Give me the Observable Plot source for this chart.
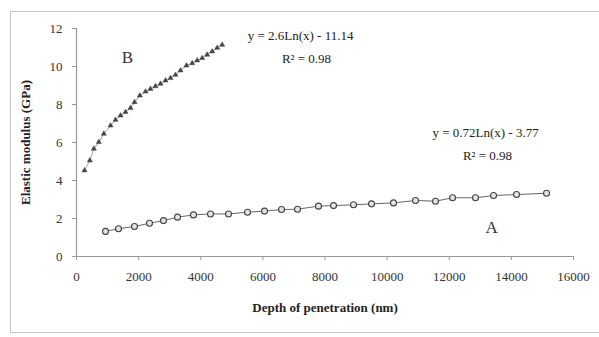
<!DOCTYPE html>
<html>
<head>
<meta charset="utf-8">
<script src="https://cdn.jsdelivr.net/npm/d3@7"></script>
<script src="https://cdn.jsdelivr.net/npm/@observablehq/plot@0.6"></script>
<style>
  html, body { margin: 0; padding: 0; background: #fff; }
  #wrap { position: relative; width: 599px; height: 337px; overflow: hidden; }
  #border { position: absolute; left: 10px; top: 11px; width: 620px; height: 322px;
            border: 1.5px solid #c4c4c4; box-sizing: border-box; pointer-events: none; }
</style>
</head>
<body>
<div id="wrap"><div id="border"></div></div>
<script>
// Series A: depth of penetration (nm) and elastic modulus (GPa)
const depthA = [934, 1352, 1867, 2350, 2800, 3252, 3767, 4314, 4894, 5505, 6053, 6600, 7115,
                7790, 8275, 8918, 9498, 10206, 10914, 11558, 12106, 12846, 13426, 14166, 15132];
const modulusA = [1.32, 1.46, 1.58, 1.75, 1.89, 2.07, 2.19, 2.24, 2.24, 2.33, 2.39, 2.47, 2.49,
                  2.65, 2.68, 2.72, 2.77, 2.82, 2.95, 2.91, 3.09, 3.09, 3.21, 3.26, 3.33];

// Series B
const depthB = [258, 429, 558, 719, 880, 1095, 1256, 1417, 1578, 1739, 1867, 2040, 2222, 2382,
                2543, 2704, 2865, 3026, 3187, 3348, 3541, 3724, 3885, 4046, 4207, 4368, 4530, 4690];
const modulusB = [4.53, 5.05, 5.67, 6.02, 6.46, 6.89, 7.19, 7.42, 7.60, 7.82, 8.12, 8.47, 8.68, 8.82,
                  8.96, 9.09, 9.26, 9.39, 9.56, 9.79, 10.05, 10.17, 10.32, 10.44, 10.62, 10.79, 10.98, 11.14];

const xTicks = [0, 2000, 4000, 6000, 8000, 10000, 12000, 14000, 16000];
const yTicks = [0, 2, 4, 6, 8, 10, 12];

// Trend-line equations and series names
const equations = [
  {text: "y = 2.6Ln(x) - 11.14", x: 7212, y: 11.6},
  {text: "R² = 0.98", x: 7405, y: 10.38},
  {text: "y = 0.72Ln(x) - 3.77", x: 13168, y: 6.53},
  {text: "R² = 0.98", x: 13232, y: 5.32}
];
const seriesNames = [
  {text: "B", x: 1642, y: 10.47},
  {text: "A", x: 13361, y: 1.53}
];

const A = depthA.map((d, i) => ({depth: d, modulus: modulusA[i]}));
const B = depthB.map((d, i) => ({depth: d, modulus: modulusB[i]}));

const chart = Plot.plot({
  width: 599,
  height: 337,
  marginLeft: 76,
  marginRight: 26,
  marginTop: 28,
  marginBottom: 81,
  style: {fontFamily: "'Liberation Serif', 'DejaVu Serif', serif", fontSize: "13px", color: "#222", background: "transparent"},
  x: {domain: [0, 16000]},
  y: {domain: [0, 12]},
  marks: [
    Plot.ruleY([0], {stroke: "#999", strokeWidth: 1.2}),
    Plot.ruleX([0], {stroke: "#999", strokeWidth: 1.2}),
    Plot.axisX({ticks: xTicks, tickSize: 4, tickPadding: 11, stroke: "#999", fill: "#333",
                tickFormat: d => String(d), label: null, fontSize: 13}),
    Plot.axisY({ticks: yTicks, tickSize: 4, tickPadding: 10, stroke: "#999", fill: "#333",
                label: null, fontSize: 13}),
    Plot.line(A, {x: "depth", y: "modulus", stroke: "#666", strokeWidth: 1}),
    Plot.line(B, {x: "depth", y: "modulus", stroke: "#777", strokeWidth: 0.7}),
    Plot.dot(A, {x: "depth", y: "modulus", r: 3, stroke: "#444", strokeWidth: 1.1, fill: "#e4e4e4"}),
    Plot.dot(B, {x: "depth", y: "modulus", symbol: "triangle", r: 1.9, fill: "#444", stroke: "#444", strokeWidth: 0.5}),
    Plot.text(equations, {x: "x", y: "y", text: "text", fontSize: 13, fill: "#222"}),
    Plot.text(seriesNames, {x: "x", y: "y", text: "text", fontSize: 17, fill: "#333"}),
    Plot.text(["Depth of penetration (nm)"], {frameAnchor: "bottom", dy: 55,
              text: d => d, fontWeight: "bold", fontSize: 13, fill: "#222"}),
    Plot.text(["Elastic modulus (GPa)"], {frameAnchor: "left", dx: -51, rotate: -90, textAnchor: "middle",
              text: d => d, fontWeight: "bold", fontSize: 13, fill: "#222"})
  ]
});
document.getElementById("wrap").appendChild(chart);
</script>
</body>
</html>
